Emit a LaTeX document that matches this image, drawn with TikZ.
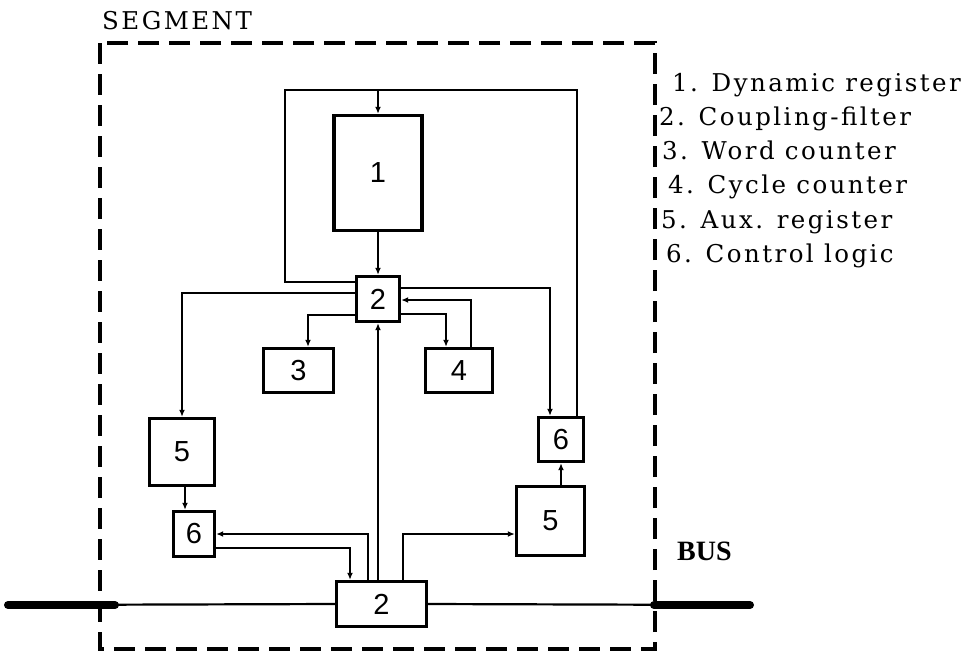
\documentclass[tikz,border=0pt]{standalone}
\usepackage{fontspec}
\setmainfont{Liberation Serif}
\newfontfamily\typefont[LetterSpace=10]{DejaVu Serif}
\newfontfamily\digitfont{Liberation Sans}
\usetikzlibrary{arrows.meta}
\begin{document}
\begin{tikzpicture}[x=1pt,y=-1pt,
  blk/.style={draw,line width=3.4pt,inner sep=0pt,font=\digitfont\fontsize{29}{29}\selectfont},
  wire/.style={line width=2.2pt},
  >={Latex[length=7pt,width=6pt]},
  lbl/.style={anchor=base west,inner sep=0pt,font=\typefont\fontsize{24.5}{24.5}\selectfont}]
  \useasboundingbox (0,0) rectangle (979,654);
  % 段框
  \draw[line width=3.2pt,dash pattern=on 21pt off 10pt] (100,43) rectangle (655,649);
  \node[lbl] (seg) at (102,29) {SEGMENT};
  % 方框
  \node[blk,minimum width=88pt,minimum height=115pt] (d1) at (378,173) {1};
  \node[blk,minimum width=43pt,minimum height=45pt] (c2) at (378,299) {2};
  \node[blk,minimum width=70pt,minimum height=44pt] (w3) at (298.5,370.5) {3};
  \node[blk,minimum width=67pt,minimum height=44pt] (y4) at (459,370.5) {4};
  \node[blk,minimum width=65pt,minimum height=67pt] (a5l) at (182,452) {5};
  \node[blk,minimum width=41pt,minimum height=45pt] (k6l) at (194,534) {6};
  \node[blk,minimum width=45pt,minimum height=44pt] (k6r) at (561,439.5) {6};
  \node[blk,minimum width=68pt,minimum height=69pt] (a5r) at (550.5,521) {5};
  \node[blk,minimum width=90pt,minimum height=45pt] (c2b) at (381.5,604) {2};
  % 回路
  \coordinate (lpL) at (285,90);
  \coordinate (lpR) at (577,90);
  \draw[wire] (c2.west |- 0,282) -| (lpL) -- (lpR) -- (lpR |- k6r.north);
  \draw[wire,->] (d1.north |- lpL) -- (d1.north);
  \draw[wire,->] (d1) -- (c2);
  % 上面的2
  \draw[wire,->] (c2.west |- 0,293) -| (a5l.north);
  \draw[wire,->] (c2.west |- 0,315) -| (w3.north -| 308,0);
  \draw[wire,->] (c2.east |- 0,288) -| (k6r.north -| 550,0);
  \draw[wire,->] (y4.north -| 471,0) |- (c2.east |- 0,300);
  \draw[wire,->] (c2.east |- 0,314) -| (y4.north -| 446,0);
  % 下面的2
  \draw[wire,->] (c2b.north -| c2.south) -- (c2.south);
  \draw[wire,->] (c2b.north -| 368,0) |- (k6l.east);
  \draw[wire,->] (k6l.east |- 0,548) -| (c2b.north -| 350,0);
  \draw[wire,->] (c2b.north -| 403,0) |- (a5r.west |- 0,534);
  \draw[wire,->] (a5l.south -| 185,0) -- (k6l.north -| 185,0);
  \draw[wire,->] (a5r.north -| k6r.south) -- (k6r.south);
  % 总线
  \coordinate (busL) at (8,605);
  \coordinate (busLi) at (115,605);
  \coordinate (busRi) at (654,605);
  \coordinate (busR) at (750,605);
  \draw[wire] (busL) -- (c2b.west);
  \draw[wire] (c2b.east) -- (busR);
  \draw[line width=8pt,line cap=round] (busL) -- (busLi);
  \draw[line width=8pt,line cap=round] (busRi) -- (busR);
  \node[lbl,font=\bfseries\fontsize{28}{28}\selectfont] (bus) at (677,560) {BUS};
  % 说明
  \node[lbl] (t1) at (672,91) {1. Dynamic register};
  \node[lbl] (t2) at (659,125) {2. Coupling-filter};
  \node[lbl] (t3) at (662,159) {3. Word counter};
  \node[lbl] (t4) at (668,193) {4. Cycle counter};
  \node[lbl] (t5) at (661,228) {5. Aux. register};
  \node[lbl] (t6) at (666,262) {6. Control logic};
\end{tikzpicture}
\end{document}
